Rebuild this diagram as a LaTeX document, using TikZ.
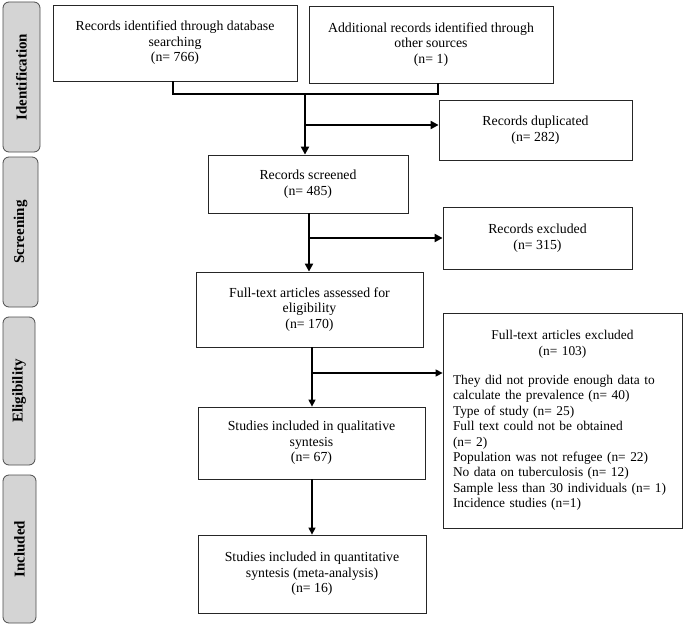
\documentclass[tikz,border=0pt]{standalone}
\usepackage{fontspec}
\setmainfont{Liberation Serif}
\usetikzlibrary{arrows.meta,positioning}
\tikzset{
    box/.style={draw=black!85,line width=.8pt,align=center,inner sep=2pt,font=\fontsize{13.8}{15.5}\selectfont},
    stage/.style={draw=black!70,fill=black!17,rounded corners=6pt,line width=.8pt,rotate=90,inner sep=0pt,font=\fontsize{15}{17}\selectfont\bfseries},
    arr/.style={-{Triangle[length=8pt,width=8pt]},line width=2.4pt},
    tarr/.style={-{Triangle[length=7pt,width=7pt]},line width=1.4pt},
    bracket/.style={line width=1.1pt},
}

\begin{document}
\begin{tikzpicture}[x=1pt,y=-1pt]
    \useasboundingbox (0,0) rectangle (685,626);

    \node[stage,minimum width=150pt,minimum height=37pt] (identification) at (21.5,77) {Identification};
    \node[stage,minimum width=150pt,minimum height=35pt] (screening) at (20.5,232) {Screening};
    \node[stage,minimum width=148pt,minimum height=32pt] (eligibility) at (19,391) {Eligibility};
    \node[stage,minimum width=148pt,minimum height=33pt] (included) at (19.5,549) {Included};

    \node[box,minimum width=244pt,minimum height=76pt] (database) at (175,43)
        {Records identified through database\\searching\\(n= 766)};
    \node[box,minimum width=244pt,minimum height=77pt] (other) at (431,44.5)
        {Additional records identified through\\other sources\\(n= 1)};
    \node[box,minimum width=193pt,minimum height=60pt] (duplicated) at (535.5,130)
        {Records duplicated\\(n= 282)};
    \node[box,minimum width=200pt,minimum height=58pt] (screened) at (308,184)
        {Records screened\\(n= 485)};
    \node[box,minimum width=189pt,minimum height=62pt] (excluded) at (537.5,238)
        {Records excluded\\(n= 315)};
    \node[box,minimum width=227pt,minimum height=75pt] (fulltext) at (309.5,309.5)
        {Full-text articles assessed for\\eligibility\\(n= 170)};
    \node[box,minimum width=239pt,minimum height=215pt,text width=219pt,align=left,
        font=\fontsize{13.4}{15.4}\selectfont] (ftexcluded) at (562.5,420.5)
        {{\centering Full-text articles excluded\\(n= 103)\par}\vspace{14pt}
        They did not provide enough data to\\calculate the prevalence (n= 40)\\
        Type of study (n= 25)\\Full text could not be obtained\\(n= 2)\\
        Population was not refugee (n= 22)\\No data on tuberculosis (n= 12)\\
        Sample less than 30 individuals (n= 1)\\Incidence studies (n=1)};
    \node[box,minimum width=227pt,minimum height=72pt] (qualitative) at (311.5,443)
        {Studies included in qualitative\\syntesis\\(n= 67)};
    \node[box,minimum width=228pt,minimum height=78pt] (quantitative) at (312,574)
        {Studies included in quantitative\\syntesis (meta-analysis)\\(n= 16)};

    \coordinate (merge) at (305,94);
    \coordinate (dup) at (305,125);
    \coordinate (scr) at (309,238);
    \coordinate (elig) at (312,373);

    \draw[bracket] (database.south -| 173,0) |- (merge) -| (other.south -| 438,0);
    \draw[arr] (merge) -- (merge |- screened.north);
    \draw[arr] (dup) -- (dup -| duplicated.west);
    \draw[arr] (screened.south -| scr) -- (scr |- fulltext.north);
    \draw[arr] (scr) -- (excluded.west);
    \draw[tarr] (fulltext.south -| elig) -- (elig |- qualitative.north);
    \draw[tarr] (elig) -- (elig -| ftexcluded.west);
    \draw[tarr] (qualitative.south -| elig) -- (elig |- quantitative.north);
\end{tikzpicture}
\end{document}
